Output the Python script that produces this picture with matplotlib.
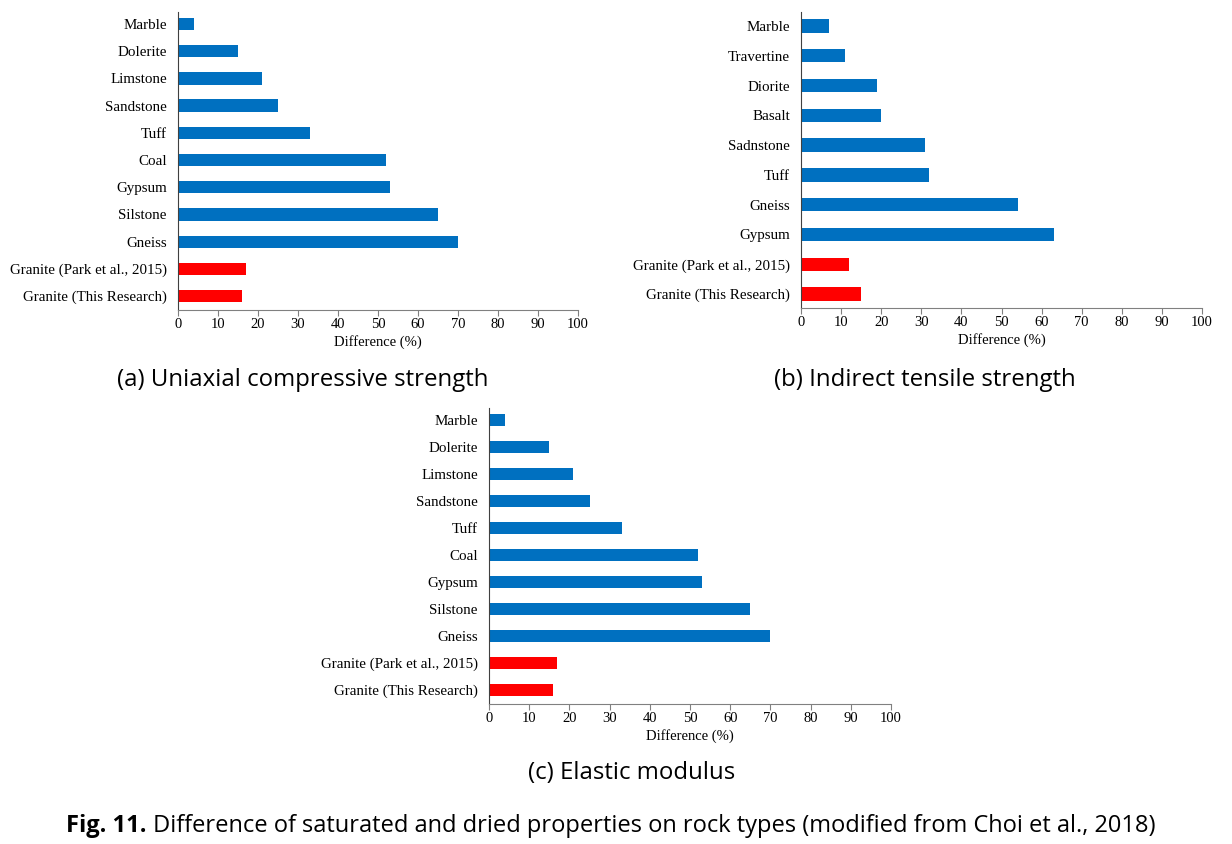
import matplotlib
matplotlib.use('Agg')
import matplotlib.pyplot as plt

blue = '#0070C0'
red = '#FF0000'

# (a) uniaxial compressive strength and (c) elastic modulus share rock list
rocks_a = ['Marble', 'Dolerite', 'Limstone', 'Sandstone', 'Tuff', 'Coal', 'Gypsum',
           'Silstone', 'Gneiss', 'Granite (Park et al., 2015)', 'Granite (This Research)']
vals_a = [4, 15, 21, 25, 33, 52, 53, 65, 70, 17, 16]

rocks_b = ['Marble', 'Travertine', 'Diorite', 'Basalt', 'Sadnstone', 'Tuff', 'Gneiss',
           'Gypsum', 'Granite (Park et al., 2015)', 'Granite (This Research)']
vals_b = [7, 11, 19, 20, 31, 32, 54, 63, 12, 15]

rocks_c = rocks_a
vals_c = [4, 15, 21, 25, 33, 52, 53, 65, 70, 17, 16]

captions = ['(a) Uniaxial compressive strength', '(b) Indirect tensile strength',
            '(c) Elastic modulus']

W, H = 1232, 844
fig = plt.figure(figsize=(W / 100, H / 100), dpi=100)

serif = 'Liberation Serif'


def px_axes(x0, x1, ytop, ybot):
    return fig.add_axes([x0 / W, (H - ybot) / H, (x1 - x0) / W, (ybot - ytop) / H])


def draw(ax, names, vals, top_m, bot_m):
    n = len(names)
    pos = list(range(n))[::-1]
    cols = [red if n.startswith('Granite') else blue for n in names]
    ax.barh(pos, vals, height=0.45, color=cols)
    ax.set_yticks(pos)
    ax.set_yticklabels(names, fontfamily=serif, fontsize=10.8)
    ax.set_xlim(0, 100)
    ax.set_ylim(-bot_m, n - 1 + top_m)
    ax.set_xticks(range(0, 101, 10))
    ax.set_xticklabels([str(v) for v in range(0, 101, 10)], fontfamily=serif, fontsize=10.5)
    ax.set_xlabel('Difference (%)', fontfamily=serif, fontsize=10.5, labelpad=3)
    ax.tick_params(axis='y', length=0, pad=8)
    ax.tick_params(axis='x', length=4, width=0.8, color='#808080', pad=2)
    for s in ['top', 'right']:
        ax.spines[s].set_visible(False)
    ax.spines['left'].set_color('#404040')
    ax.spines['bottom'].set_color('#808080')
    ax.spines['left'].set_linewidth(0.8)
    ax.spines['bottom'].set_linewidth(0.8)


ax1 = px_axes(178, 578, 12, 310)
draw(ax1, rocks_a, vals_a, 0.44, 0.51)
ax2 = px_axes(801, 1202, 12, 308)
draw(ax2, rocks_b, vals_b, 0.47, 0.47)
ax3 = px_axes(489, 891, 408, 704)
draw(ax3, rocks_c, vals_c, 0.44, 0.52)

cap = 'Open Sans'
fig.text(303 / W, 1 - 380 / H, captions[0], ha='center', va='center', fontsize=17.3, fontfamily=cap)
fig.text(925 / W, 1 - 380 / H, captions[1], ha='center', va='center', fontsize=17.3, fontfamily=cap)
fig.text(632 / W, 1 - 773 / H, captions[2], ha='center', va='center', fontsize=17.3, fontfamily=cap)

# figure caption: bold "Fig. 11." followed by normal text, centred as a whole
r = fig.canvas.get_renderer()
yc = 1 - 826 / H
t_bold = fig.text(0, yc, 'Fig. 11.', ha='left', va='center', fontsize=17, fontfamily=cap, fontweight='bold')
t_norm = fig.text(0, yc, ' Difference of saturated and dried properties on rock types (modified from Choi et al., 2018)',
                  ha='left', va='center', fontsize=17, fontfamily=cap)
wb = t_bold.get_window_extent(r).width
wn = t_norm.get_window_extent(r).width
x0 = 611 - (wb + wn) / 2
t_bold.set_x(x0 / W)
t_norm.set_x((x0 + wb) / W)

fig.savefig('out.png', dpi=100)
